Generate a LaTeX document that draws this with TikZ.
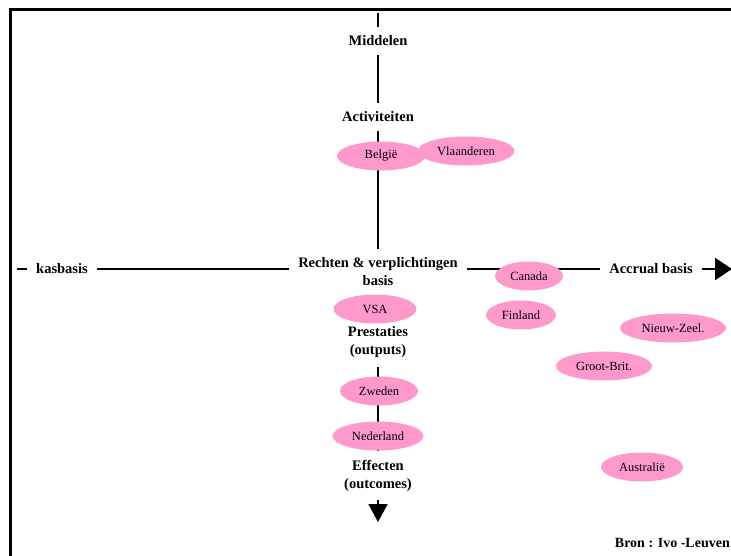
\documentclass[tikz,border=0pt]{standalone}
\usepackage{fontspec}
\setmainfont{Liberation Serif}
\usetikzlibrary{shapes.geometric,arrows.meta}
\definecolor{landpink}{HTML}{FF99CC}
\begin{document}
\begin{tikzpicture}[x=1pt,y=-1pt,
        axislabel/.style={font=\fontsize{14.5}{18}\selectfont\bfseries,align=center,inner sep=9pt},
        land/.style={ellipse,fill=landpink,inner sep=0pt,minimum height=29pt,font=\fontsize{12.5}{14}\selectfont},
        axis/.style={line width=2pt},
        axisarrow/.style={line width=2pt,-{Triangle[length=18pt,width=19pt]}}]
        \useasboundingbox (0,0) rectangle (731,556);
        \draw[line width=3pt] (10,570) -- (10,9.5) -- (745,9.5);

        % labels on the axes
        \node[axislabel] (mid) at (378,41) {Middelen};
        \node[axislabel] (act) at (378,117) {Activiteiten};
        \node[axislabel] (recht) at (378,272) {Rechten \& verplichtingen\\basis};
        \node[axislabel] (prest) at (378,342) {Prestaties\\(outputs)};
        \node[axislabel] (eff) at (378,475.5) {Effecten\\(outcomes)};
        \node[axislabel] (kas) at (62,269) {kasbasis};
        \node[axislabel] (accr) at (651,269) {Accrual basis};
        \coordinate (top) at (378,13);
        \coordinate (bottom) at (378,522);
        \coordinate (left) at (17,269);
        \coordinate (right) at (732,269);

        % vertical axis
        \draw[axis] (top) -- (mid.north);
        \draw[axis] (mid.south) -- (act.north);
        \draw[axis] (act.south) -- (recht.north);
        \draw[axis] (recht.south) -- (prest.north);
        \draw[axis] (prest.south) -- (eff.north);
        \draw[axisarrow] (eff.south) -- (bottom);

        % horizontal axis
        \draw[axis] (left) -- (kas.west);
        \draw[axis] (kas.east) -- (kas.east -| recht.west);
        \draw[axis] (accr.west -| recht.east) -- (accr.west);
        \draw[axisarrow,-{Triangle[length=17pt,width=22pt]}] (accr.east) -- (right);

        % landen
        \node[land,minimum width=88pt] (belg) at (381,156) {België};
        \node[land,minimum width=97pt] (vla) at (466,151) {Vlaanderen};
        \node[land,minimum width=68pt] (can) at (529,276) {Canada};
        \node[land,minimum width=83pt] (vsa) at (375,309) {VSA};
        \node[land,minimum width=70pt] (fin) at (521,315) {Finland};
        \node[land,minimum width=106pt] (nz) at (673,328) {Nieuw-Zeel.};
        \node[land,minimum width=96pt] (gb) at (604,366) {Groot-Brit.};
        \node[land,minimum width=78pt] (zwe) at (379,391) {Zweden};
        \node[land,minimum width=91pt] (ned) at (378,436) {Nederland};
        \node[land,minimum width=82pt] (aus) at (642,467) {Australië};

        \node[font=\fontsize{14}{16}\selectfont\bfseries,anchor=east,inner sep=0pt] (bron) at (730,543) {Bron : Ivo -Leuven};
\end{tikzpicture}
\end{document}
